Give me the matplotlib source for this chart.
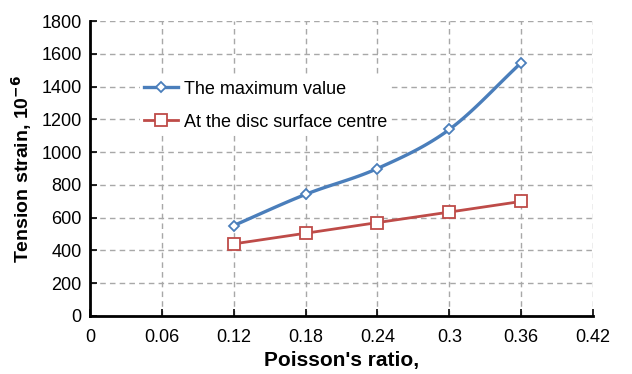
import numpy as np
import matplotlib
matplotlib.use("Agg")
import matplotlib.pyplot as plt

plt.rcParams['font.family'] = ['Liberation Sans', 'DejaVu Sans']

poisson = [0.12, 0.18, 0.24, 0.30, 0.36]
max_strain = [552, 742, 900, 1138, 1545]
centre_strain = [440, 505, 570, 634, 699]
x_ticks = [0, 0.06, 0.12, 0.18, 0.24, 0.3, 0.36, 0.42]
x_tick_labels = ['0', '0.06', '0.12', '0.18', '0.24', '0.3', '0.36', '0.42']
y_ticks = list(range(0, 1801, 200))

blue = '#4a7ebb'
red = '#be4b48'


def smooth_curve(xs, ys, n=30):
    """Catmull-Rom style cubic through the points (spreadsheet 'smoothed line')."""
    xs = np.asarray(xs, float)
    ys = np.asarray(ys, float)
    px = np.concatenate([[2 * xs[0] - xs[1]], xs, [2 * xs[-1] - xs[-2]]])
    py = np.concatenate([[2 * ys[0] - ys[1]], ys, [2 * ys[-1] - ys[-2]]])
    out_x, out_y = [], []
    t = np.linspace(0, 1, n)
    for i in range(1, len(px) - 2):
        p0, p1, p2, p3 = (np.array([px[j], py[j]]) for j in range(i - 1, i + 3))
        c1 = p1 + (p2 - p0) / 6.0
        c2 = p2 - (p3 - p1) / 6.0
        tt = t[:, None]
        pts = ((1 - tt) ** 3) * p1 + 3 * ((1 - tt) ** 2) * tt * c1 + 3 * (1 - tt) * tt ** 2 * c2 + tt ** 3 * p2
        out_x.extend(pts[:, 0])
        out_y.extend(pts[:, 1])
    return np.array(out_x), np.array(out_y)


fig = plt.figure(figsize=(6.32, 3.74), dpi=100)
ax = fig.add_axes([90 / 632, 1 - 316 / 374, 503 / 632, 295 / 374])

sx, sy = smooth_curve(poisson, max_strain)
ax.plot(sx, sy, color=blue, lw=2.4, zorder=3)
ax.plot(poisson, max_strain, ls='none', marker='D', ms=5.5, mfc='white',
        mec=blue, mew=1.3, zorder=4)
ax.plot(poisson, centre_strain, color=red, lw=2.0, marker='s', ms=8.5,
        mfc='white', mec=red, mew=1.3, zorder=4)

# legend proxies
h1, = ax.plot([], [], color=blue, lw=2.4, marker='D', ms=5.5, mfc='white', mec=blue, mew=1.3)
h2, = ax.plot([], [], color=red, lw=2.0, marker='s', ms=8.5, mfc='white', mec=red, mew=1.3)
leg = ax.legend([h1, h2], ['The maximum value', 'At the disc surface centre'],
                loc='center left', bbox_to_anchor=(0.1, 0.713), frameon=True,
                fancybox=False, edgecolor='none', facecolor='white', framealpha=1,
                fontsize=13, handlelength=1.9, handletextpad=0.3, labelspacing=0.9,
                borderpad=0.2, borderaxespad=0)

ax.set_xlim(0, 0.42)
ax.set_ylim(0, 1800)
ax.set_xticks(x_ticks)
ax.set_xticklabels(x_tick_labels)
ax.set_yticks(y_ticks)
ax.tick_params(axis='both', labelsize=13, length=5, width=1.2, color='black',
               direction='in')
ax.tick_params(axis='x', pad=9)
ax.tick_params(axis='y', pad=6)
ax.grid(True, color='#a8a8a8', ls=(0, (4, 3)), lw=1)
ax.set_axisbelow(True)

for side in ('top', 'right'):
    ax.spines[side].set_visible(False)
for side in ('left', 'bottom'):
    ax.spines[side].set_linewidth(2)
    ax.spines[side].set_color('black')

ax.set_xlabel("Poisson's ratio,", fontsize=15, fontweight='bold', labelpad=4)
ax.set_ylabel("Tension strain, 10$^{\\mathbf{-6}}$", fontsize=14, fontweight='bold', labelpad=5)

fig.savefig('out.png', dpi=100)
